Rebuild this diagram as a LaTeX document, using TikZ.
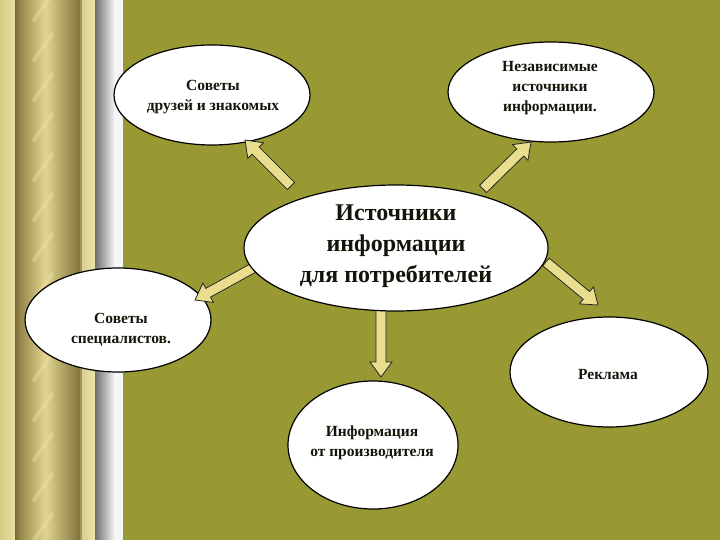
\documentclass[tikz,border=0pt]{standalone}
\usepackage{fontspec}
\setmainfont{Liberation Serif}
\usetikzlibrary{shapes.geometric,calc}
\definecolor{olivebg}{RGB}{153,153,51}
\definecolor{arrfill}{RGB}{234,222,142}
\definecolor{txtc}{RGB}{20,20,10}
\definecolor{stripline}{RGB}{160,150,100}
\definecolor{streak}{RGB}{238,226,160}
\tikzset{
  oval/.style={ellipse, draw=black, line width=1.2pt, fill=white, inner sep=0pt},
  smalltxt/.style={align=center, text=txtc, font=\fontsize{15.5}{20}\selectfont\bfseries},
  bigtxt/.style={align=center, text=txtc, font=\fontsize{24}{31}\selectfont\bfseries},
  arrowstyle/.style={fill=arrfill, draw=black!85, line width=0.8pt, line join=miter}
}
\newcommand\blockarr[2]{%
  \coordinate (bC) at ($(#2)!15pt!(#1)$);
  \filldraw[arrowstyle] ($(#1)!5pt!90:(#2)$) -- ($(bC)!5pt!90:(#2)$) -- ($(bC)!11pt!90:(#2)$) -- (#2)
    -- ($(bC)!11pt!-90:(#2)$) -- ($(bC)!5pt!-90:(#2)$) -- ($(#1)!5pt!-90:(#2)$) -- cycle;}
\begin{document}
\begin{tikzpicture}[x=1pt,y=-1pt]
\useasboundingbox (0,0) rectangle (720,540);
\fill[olivebg] (0,0) rectangle (720,540);
% decorative left strip
\shade[left color={rgb,255:red,214;green,202;blue,132}, right color={rgb,255:red,232;green,224;blue,164}] (0,0) rectangle (15,540);
\shade[left color={rgb,255:red,120;green,106;blue,56}, right color={rgb,255:red,150;green,136;blue,74}] (15,0) rectangle (20,540);
\shade[left color={rgb,255:red,150;green,136;blue,74}, right color={rgb,255:red,226;green,212;blue,144}] (20,0) rectangle (45,540);
\shade[left color={rgb,255:red,226;green,212;blue,144}, right color={rgb,255:red,128;green,114;blue,60}] (45,0) rectangle (80,540);
\begin{scope}
  \clip (24,0) rectangle (66,540);
  \foreach \yy in {20,60,...,580}
    \draw[streak, opacity=.45, line width=4pt, line cap=round] (34,\yy) -- (52,\yy-26);
\end{scope}
\shade[left color={rgb,255:red,216;green,204;blue,136}, right color={rgb,255:red,236;green,228;blue,170}] (80,0) rectangle (95,540);
\fill[stripline] (80,0) rectangle (81.5,540);
\shade[left color={rgb,255:red,110;green,110;blue,110}, right color=white] (95,0) rectangle (116,540);
\fill[white!96!black] (116,0) rectangle (123,540);

% outer ellipses
\node[oval, minimum width=196pt, minimum height=100pt] (e1) at (212,95) {};
\node[smalltxt] (t1) at (213,97) {Советы\\друзей и знакомых};
\node[oval, minimum width=206pt, minimum height=100pt] (e2) at (551,92) {};
\node[smalltxt] (t2) at (550,88) {Независимые\\источники\\информации.};
\node[oval, minimum width=186pt, minimum height=104pt] (e4) at (118,320) {};
\node[smalltxt] (t4) at (121,330) {Советы\\специалистов.};
\node[oval, minimum width=198pt, minimum height=110pt] (e5) at (609,372) {};
\node[smalltxt] (t5) at (608,374) {Реклама};
\node[oval, minimum width=170pt, minimum height=128pt] (e6) at (373,445) {};
\node[smalltxt] (t6) at (372,443) {Информация\\от производителя};

% arrows
\coordinate (s1) at (291,186); \coordinate (d1) at (245,140);
\coordinate (s2) at (483,189); \coordinate (d2) at (531,142);
\coordinate (s3) at (253,268); \coordinate (d3) at (195,300);
\coordinate (s4) at (381,305); \coordinate (d4) at (381,377);
\coordinate (s5) at (546,262); \coordinate (d5) at (598,305);
\blockarr{s1}{d1}
\blockarr{s2}{d2}
\blockarr{s3}{d3}
\blockarr{s4}{d4}
\blockarr{s5}{d5}

% centre ellipse
\node[oval, minimum width=304pt, minimum height=126pt] (c) at (396,248) {};
\node[bigtxt] (tc) at (396,246) {Источники\\информации\\для потребителей};
\end{tikzpicture}
\end{document}
